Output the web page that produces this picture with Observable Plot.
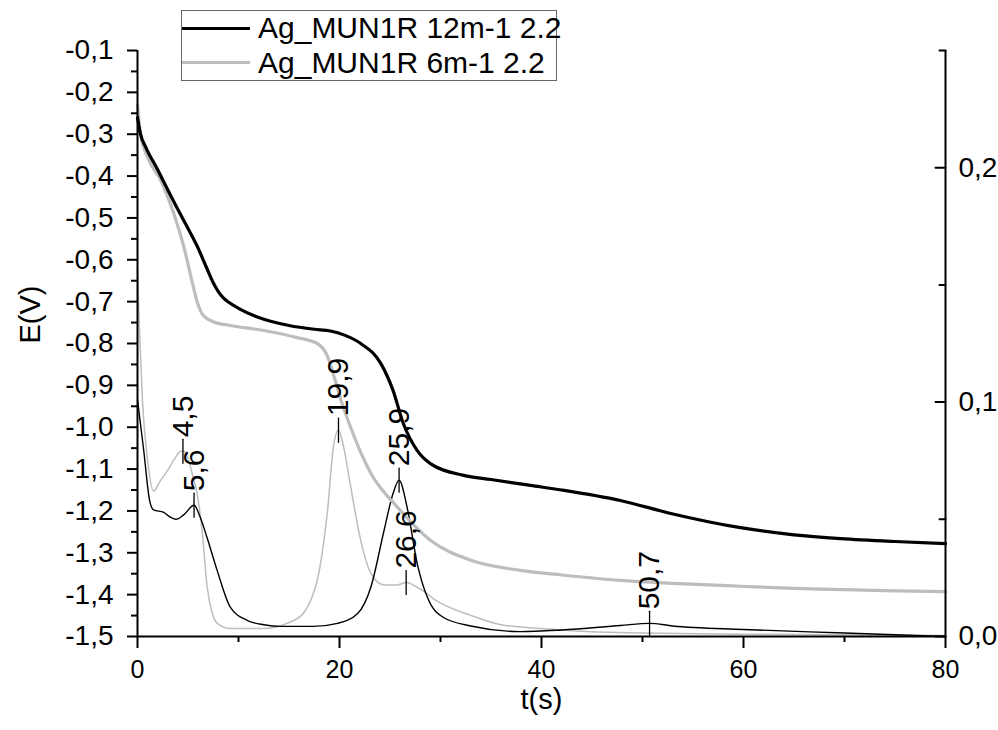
<!DOCTYPE html>
<html><head><meta charset="utf-8">
<script src="https://cdn.jsdelivr.net/npm/d3@7"></script>
<script src="https://cdn.jsdelivr.net/npm/@observablehq/plot@0.6"></script>
<style>
body{margin:0;background:#fff;}
#wrap{position:relative;width:998px;height:730px;font-family:"Liberation Sans",Arial,sans-serif;}
#legend{position:absolute;left:181px;top:10px;width:376px;height:71px;border:1px solid #666;box-sizing:border-box;background:#fff;}
.row{display:flex;align-items:center;height:34.5px;}
.swatch{width:68px;height:3px;margin-right:8px;flex:none;}
.lab{font-size:30px;line-height:34px;white-space:nowrap;color:#000;}
</style></head><body><div id="wrap"><div id="legend"></div></div>
<script>
// ---- data ----
const seriesNames = ["Ag_MUN1R 12m-1 2.2", "Ag_MUN1R 6m-1 2.2"];
const seriesColors = ["#000000", "#bdbdbd"];

// E(V) of 12m-1 (thick black, left axis)
const t12 = [0, 0.3, 0.8, 2, 3, 4, 5, 6, 6.5, 7, 7.5, 8, 8.5, 9, 10, 12, 15, 17.5, 19.1, 20.5, 22.1, 24.1, 25.3, 26.3, 27.7, 29, 32.3, 35, 38.9, 42, 47.8, 52.8, 59.7, 65, 69.6, 75, 80];
const e12 = [-0.26, -0.30, -0.33, -0.385, -0.433, -0.48, -0.525, -0.572, -0.60, -0.628, -0.655, -0.676, -0.691, -0.701, -0.716, -0.738, -0.757, -0.766, -0.770, -0.780, -0.80, -0.848, -0.912, -0.99, -1.056, -1.087, -1.115, -1.125, -1.139, -1.15, -1.175, -1.206, -1.24, -1.257, -1.266, -1.273, -1.278];

// E(V) of 6m-1 (thick grey, left axis)
const t6 = [0, 0.3, 1, 2.3, 3.6, 4.6, 5.5, 5.9, 6.3, 6.8, 7.5, 9.2, 12.5, 15.8, 17.8, 18.8, 19.5, 20.2, 21.1, 22.1, 23.1, 25.7, 29, 33, 37.9, 42, 47.8, 53, 59.7, 65, 70, 75, 80];
const e6 = [-0.23, -0.30, -0.355, -0.41, -0.49, -0.57, -0.662, -0.700, -0.725, -0.739, -0.748, -0.757, -0.769, -0.786, -0.80, -0.83, -0.882, -0.94, -1.0, -1.06, -1.11, -1.19, -1.27, -1.318, -1.342, -1.353, -1.366, -1.373, -1.38, -1.385, -1.388, -1.391, -1.393];

// derivative of 12m-1 (thin black, right axis)
const d12t = [0, 0.6, 1.2, 1.6, 2.6, 3.2, 3.8, 4.6, 5.6, 6.2, 6.9, 7.9, 9.2, 10.9, 12.5, 14.2, 17.4, 19.8, 21.8, 23.1, 24.4, 25.3, 25.9, 26.7, 27.7, 28.7, 30.3, 33, 37.9, 42, 47.8, 50.7, 53, 60, 70, 80];
const d12 = [0.101, 0.080, 0.058, 0.054, 0.053, 0.051, 0.050, 0.052, 0.056, 0.051, 0.042, 0.028, 0.0124, 0.0068, 0.005, 0.0043, 0.0043, 0.0056, 0.0098, 0.021, 0.045, 0.061, 0.0667, 0.055, 0.031, 0.0167, 0.0081, 0.0045, 0.0021, 0.0028, 0.0047, 0.0056, 0.0045, 0.003, 0.0015, 0.0];

// derivative of 6m-1 (thin grey, right axis)
const d6t = [0, 0.2, 0.5, 1.0, 1.6, 2.2, 3.0, 3.7, 4.3, 4.6, 5.0, 5.5, 5.9, 6.4, 6.9, 7.4, 7.9, 9.2, 12.5, 14.8, 16.4, 17.2, 17.8, 18.3, 18.8, 19.4, 19.9, 20.4, 21.1, 22.1, 23.1, 24.4, 25.7, 26.6, 27.7, 29.7, 33, 36, 40, 45, 50, 60, 70, 80];
const d6 = [0.157, 0.13, 0.10, 0.075, 0.062, 0.066, 0.071, 0.076, 0.079, 0.079, 0.076, 0.068, 0.061, 0.045, 0.021, 0.010, 0.0056, 0.0034, 0.0034, 0.0056, 0.0098, 0.016, 0.024, 0.036, 0.053, 0.081, 0.088, 0.081, 0.064, 0.041, 0.027, 0.022, 0.022, 0.023, 0.021, 0.015, 0.009, 0.005, 0.0034, 0.002, 0.0015, 0.001, 0.0007, 0.0004];

// peak annotations
const peakT = [4.5, 5.6, 19.9, 25.9, 26.6, 50.7];
const peakR = [0.079, 0.056, 0.088, 0.0667, 0.023, 0.0056];
const peakText = ["4,5", "5,6", "19,9", "25,9", "26,6", "50,7"];

// axes
const xDomain = [0, 80];
const yDomain = [-1.5, -0.1];
const rDomain = [0, 0.25];
const xTicks = [0, 20, 40, 60, 80];
const xMinor = [10, 30, 50, 70];
const yTicks = [-1.5, -1.4, -1.3, -1.2, -1.1, -1.0, -0.9, -0.8, -0.7, -0.6, -0.5, -0.4, -0.3, -0.2, -0.1];
const yMinor = [-1.45, -1.35, -1.25, -1.15, -1.05, -0.95, -0.85, -0.75, -0.65, -0.55, -0.45, -0.35, -0.25, -0.15];
const rTicks = [0, 0.1, 0.2];
const rMinor = [0.05, 0.15, 0.25];
const xLabel = "t(s)";
const yLabel = "E(V)";

// ---- build ----
const toE = r => yDomain[0] + (r - rDomain[0]) / (rDomain[1] - rDomain[0]) * (yDomain[1] - yDomain[0]);
const fromE = e => rDomain[0] + (e - yDomain[0]) / (yDomain[1] - yDomain[0]) * (rDomain[1] - rDomain[0]);
const fmt = d => (Math.abs(d) < 1e-9 ? 0 : d).toFixed(1).replace(".", ",");

const thick12 = t12.map((t, i) => ({t, e: e12[i]}));
const thick6 = t6.map((t, i) => ({t, e: e6[i]}));
const thin12 = d12t.map((t, i) => ({t, e: toE(d12[i])}));
const thin6 = d6t.map((t, i) => ({t, e: toE(d6[i])}));
const peaks = peakT.map((t, i) => ({t, e: toE(peakR[i]), label: peakText[i]}));

const lineShape = {draw(ctx, l) { ctx.moveTo(0, 0); ctx.lineTo(0, -l); }};

const chart = Plot.plot({
  width: 998, height: 730,
  marginLeft: 137, marginRight: 53, marginTop: 50, marginBottom: 94,
  style: {fontFamily: '"Liberation Sans", Arial, sans-serif', fontSize: "28px", background: "white", color: "black", overflow: "visible"},
  x: {domain: xDomain},
  y: {domain: yDomain},
  marks: [
    Plot.line(thin6, {x: "t", y: "e", stroke: seriesColors[1], strokeWidth: 1.5, curve: "monotone-x"}),
    Plot.line(thin12, {x: "t", y: "e", stroke: seriesColors[0], strokeWidth: 1.4, curve: "monotone-x"}),
    Plot.line(thick6, {x: "t", y: "e", stroke: seriesColors[1], strokeWidth: 3.2, curve: "monotone-x"}),
    Plot.line(thick12, {x: "t", y: "e", stroke: seriesColors[0], strokeWidth: 3.2, curve: "monotone-x"}),
    // peak markers
    Plot.vector(peaks, {x: "t", y: "e", length: 24, rotate: 0, anchor: "middle", shape: lineShape, stroke: "black", strokeWidth: 1.3}),
    Plot.text(peaks, {x: "t", y: "e", text: "label", rotate: -90, textAnchor: "start", lineAnchor: "middle", dy: -14, fontSize: 30, fill: "black"}),
    // axis lines
    Plot.ruleX(xDomain, {stroke: "black", strokeWidth: 2}),
    Plot.ruleY([yDomain[0]], {stroke: "black", strokeWidth: 2}),
    // x axis
    Plot.axisX(xTicks, {anchor: "bottom", tickSize: 12, tickPadding: 12, strokeWidth: 2, tickFormat: d => String(d), fontSize: 25, label: null}),
    Plot.axisX(xMinor, {anchor: "bottom", tickSize: 6, strokeWidth: 2, tickFormat: () => "", label: null}),
    // left axis
    Plot.axisY(yTicks, {anchor: "left", tickSize: 10, tickPadding: 14, strokeWidth: 2, tickFormat: fmt, fontSize: 28, label: null}),
    Plot.axisY(yMinor, {anchor: "left", tickSize: 6, strokeWidth: 2, tickFormat: () => "", label: null}),
    // right axis (derivative scale)
    Plot.axisY(rTicks.map(toE), {anchor: "right", tickSize: 0, tickPadding: 13, tickFormat: d => fmt(fromE(d)), fontSize: 28, label: null}),
    Plot.vector(rTicks.map(toE), {y: d => d, frameAnchor: "right", length: 10, rotate: -90, anchor: "start", shape: lineShape, stroke: "black", strokeWidth: 2}),
    Plot.vector(rMinor.map(toE), {y: d => d, frameAnchor: "right", length: 6, rotate: -90, anchor: "start", shape: lineShape, stroke: "black", strokeWidth: 2}),
    // axis titles
    Plot.text([yLabel], {frameAnchor: "left", dx: -107, rotate: -90, fontSize: 29, fill: "black"}),
    Plot.text([xLabel], {frameAnchor: "bottom", dy: 72, fontSize: 29, fill: "black"})
  ]
});
const wrap = document.getElementById("wrap");
wrap.insertBefore(chart, wrap.firstChild);

// legend
const legend = d3.select("#legend");
seriesNames.forEach((name, i) => {
  const row = legend.append("div").attr("class", "row");
  row.append("div").attr("class", "swatch").style("background", seriesColors[i]);
  row.append("div").attr("class", "lab").text(name);
});
</script></body></html>
